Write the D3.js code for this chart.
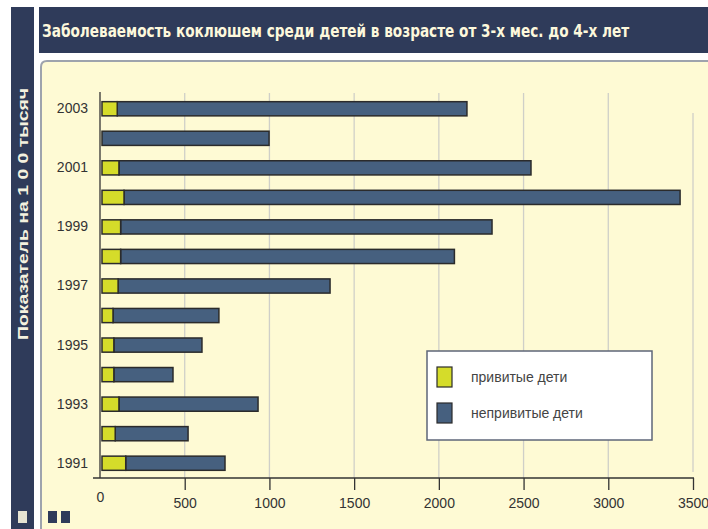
<!DOCTYPE html>
<html>
<head>
<meta charset="utf-8">
<script src="https://cdn.jsdelivr.net/npm/d3@7"></script>
<style>
  body { margin:0; background:#fff; }
  svg { display:block; }
</style>
</head>
<body>
<svg id="chart" width="708" height="529"></svg>
<script>

// ---------------------------------------------- DATA ---------------------------------------------------
var years = ["1991","1992","1993","1994","1995","1996","1997","1998","1999","2000","2001","2002","2003"];
// привитые дети
var vaccinated = [140, 78, 100, 70, 70, 65, 95, 110, 110, 130, 100, 0, 90];
// непривитые дети
var unvaccinated = [586, 430, 821, 349, 520, 625, 1251, 1970, 2192, 3282, 2432, 986, 2064];
var xTicks = [0,500,1000,1500,2000,2500,3000,3500];
var yearLabels = ["1991","1993","1995","1997","1999","2001","2003"];

var TITLE = "Заболеваемость коклюшем среди детей в возрасте от 3-х мес. до 4-х лет";
var Y_TITLE = "Показатель на 1 0 0 тысяч";
var LEGEND = ["привитые дети","непривитые дети"];

var COLOR_NAVY = "#2f3b5a";
var COLOR_CREAM = "#fefad4";
var COLOR_YELLOW = "#d5dc2a";
var COLOR_BLUE = "#46607f";

var svg = d3.select("#chart");

// ---------------------------------------------- FRAME ---------------------------------------------------
// left strip
svg.append("rect").attr("x",11).attr("y",7).attr("width",23).attr("height",522).style("fill",COLOR_NAVY);
svg.append("rect").attr("x",18).attr("y",511).attr("width",9).attr("height",12).style("fill","#e6e3d2");

// title bar
svg.append("rect").attr("x",39).attr("y",7).attr("width",669).attr("height",46).style("fill",COLOR_NAVY);
var title = svg.append("text")
	.style("font-family","'DejaVu Sans Condensed', sans-serif")
	.style("font-size","18px").style("font-weight","bold")
	.style("fill","#fdf8dc")
	.text(TITLE);
// squeeze the title horizontally to the width it has in the original (condensed face)
var _titleW = title.node().getComputedTextLength();
title.attr("transform","translate(42,37) scale("+(588/_titleW)+",1)");

// panel
svg.append("path")
	.attr("d","M41,540 L41,67 Q41,61 47,61 L720,61 L720,540 Z")
	.style("fill",COLOR_CREAM)
	.style("stroke","#9ea3ad").style("stroke-width",2);

// two small squares bottom left
svg.append("rect").attr("x",48).attr("y",511).attr("width",9).attr("height",12).style("fill",COLOR_NAVY);
svg.append("rect").attr("x",61).attr("y",511).attr("width",9).attr("height",12).style("fill",COLOR_NAVY);

// vertical axis title
svg.append("text")
	.attr("transform","translate(28,214) rotate(-90)")
	.attr("text-anchor","middle")
	.attr("textLength",252).attr("lengthAdjust","spacingAndGlyphs")
	.style("font-family","'Liberation Sans', Arial, sans-serif")
	.style("font-size","15px").style("font-weight","bold")
	.style("fill","#f4f1df")
	.text(Y_TITLE);

// ---------------------------------------------- SCALES ---------------------------------------------------
var x = d3.scaleLinear().domain([0,3500]).range([100,693]);
var y = d3.scaleBand().domain(years).range([478,94]).paddingInner(0.52).paddingOuter(0.26);

var data = years.map(function(d,i){return {year:d, v:vaccinated[i], u:unvaccinated[i]};});

// gridlines
svg.append("g").selectAll("line")
	.data(xTicks.slice(1))
	.enter().append("line")
	.attr("x1",function(d){return x(d);}).attr("x2",function(d){return x(d);})
	.attr("y1",function(d){return d==3500?113:93;})
	.attr("y2",function(d){return d==3500?472:478;})
	.style("stroke","#cfcfc8").style("stroke-width",1.3);

// ---------------------------------------------- BARS ---------------------------------------------------
var BAR_OFFSET = 2;
var gBars = svg.append("g").attr("id","bars");
gBars.selectAll("rect.unvac")
	.data(data).enter().append("rect")
	.attr("class","unvac")
	.attr("x",function(d){return x(d.v)+BAR_OFFSET;})
	.attr("y",function(d){return y(d.year);})
	.attr("width",function(d){return x(d.v+d.u)-x(d.v);})
	.attr("height",y.bandwidth())
	.style("fill",COLOR_BLUE).style("stroke","#2b2b2b").style("stroke-width",1.5);

gBars.selectAll("rect.vac")
	.data(data.filter(function(d){return d.v>0;})).enter().append("rect")
	.attr("class","vac")
	.attr("x",x(0)+BAR_OFFSET)
	.attr("y",function(d){return y(d.year);})
	.attr("width",function(d){return x(d.v)-x(0);})
	.attr("height",y.bandwidth())
	.style("fill",COLOR_YELLOW).style("stroke","#2b2b2b").style("stroke-width",1.5);

// ---------------------------------------------- AXES ---------------------------------------------------
var AXIS_FONT = "'Liberation Sans', Arial, sans-serif";

var gx = svg.append("g").attr("transform","translate(0,478)")
	.call(d3.axisBottom(x).tickValues(xTicks).tickFormat(d3.format("d")).tickSize(12).tickSizeOuter(0));
gx.select(".domain").remove();
gx.selectAll(".tick line").style("stroke","#333").style("stroke-width",1.3)
	.filter(function(d){return d==0;}).remove();
gx.selectAll(".tick text")
	.attr("y",function(d){return d==0?14:20;})
	.style("font-family",AXIS_FONT).style("font-size","14px").style("fill","#333");
svg.append("line").attr("x1",93).attr("x2",694).attr("y1",478).attr("y2",478)
	.style("stroke","#333").style("stroke-width",1.3);

var gy = svg.append("g").attr("transform","translate(91,0)")
	.call(d3.axisLeft(y).tickValues(yearLabels).tickSize(0));
gy.select(".domain").remove();
gy.selectAll(".tick text")
	.style("font-family",AXIS_FONT).style("font-size","14px").style("fill","#333");
svg.append("line").attr("x1",100).attr("x2",100).attr("y1",92).attr("y2",478)
	.style("stroke","#333").style("stroke-width",1.3);

// ---------------------------------------------- LEGEND ---------------------------------------------------
var gLegend = svg.append("g").attr("id","legend");
gLegend.append("rect").attr("x",427).attr("y",351).attr("width",225).attr("height",89)
	.style("fill","#fff").style("stroke","#5e6678").style("stroke-width",1.5);
var legendColors = [COLOR_YELLOW, COLOR_BLUE];
LEGEND.forEach(function(t,i){
	var _y = 377 + i*36;
	gLegend.append("rect").attr("x",437).attr("y",_y-10).attr("width",15).attr("height",20)
		.style("fill",legendColors[i]).style("stroke","#2b2b2b").style("stroke-width",1.2);
	gLegend.append("text").attr("x",471).attr("y",_y+5)
		.style("font-family",AXIS_FONT).style("font-size","14px").style("fill","#444")
		.text(t);
});

</script>
</body>
</html>
